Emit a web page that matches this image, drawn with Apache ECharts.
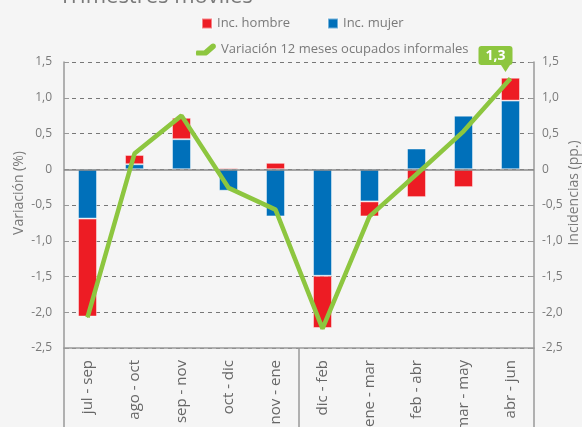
<!DOCTYPE html>
<html>
<head>
<meta charset="utf-8">
<script src="https://cdn.jsdelivr.net/npm/echarts@6/dist/echarts.min.js"></script>
<style>
  html, body { margin: 0; padding: 0; background: #f5f5f5; }
  #main { width: 582px; height: 427px; }
</style>
</head>
<body>
<div id="main"></div>
<script>
// trimestres moviles
var categories = ["jul - sep", "ago - oct", "sep - nov", "oct - dic", "nov - ene",
  "dic - feb", "ene - mar", "feb - abr", "mar - may", "abr - jun"];
var incMujer = [-0.69, 0.07, 0.42, -0.30, -0.66, -1.49, -0.45, 0.29, 0.75, 0.96];
var incHombre = [-1.37, 0.13, 0.30, 0.02, 0.09, -0.73, -0.21, -0.39, -0.25, 0.32];
var variacion = [-2.07, 0.22, 0.75, -0.26, -0.565, -2.23, -0.66, -0.07, 0.53, 1.27];
var yTicks = [-2.5, -2.0, -1.5, -1.0, -0.5, 0, 0.5, 1.0, 1.5];

var grey = "#7a7a7a";
var green = "#8dc63f";
var font = "Open Sans";

function fmt(v) {
  if (v === 0) return "0";
  return v.toFixed(1).replace(".", ",");
}

var lastIdx = variacion.length - 1;
var lineData = variacion.map(function (v, i) {
  if (i !== lastIdx) return v;
  return {
    value: v,
    label: {
      show: true, position: "top", distance: 13, offset: [-15, 0],
      formatter: function (p) { return fmt(Math.round(p.value * 10) / 10); },
      color: "#fff", fontWeight: "bold", fontSize: 14, fontFamily: font,
      backgroundColor: green, borderRadius: 3, padding: [3, 7, 2, 7]
    }
  };
});

function yAxisConf(name, pos) {
  return {
    type: "value", position: pos, min: yTicks[0], max: yTicks[yTicks.length - 1], interval: 0.5,
    name: name, nameLocation: "middle", nameRotate: 90, nameMoveOverlap: false,
    nameGap: pos === "left" ? 38 : 33,
    nameTextStyle: { color: grey, fontSize: 14, fontFamily: font, padding: [0, 0, 0, 24] },
    axisLine: { show: true, lineStyle: { color: "#999", width: 1.5 } },
    axisTick: { show: true, inside: true, length: 5, lineStyle: { color: "#999" } },
    axisLabel: { color: grey, fontSize: 12, fontFamily: font, margin: pos === "left" ? 12 : 8, formatter: fmt },
    splitLine: { show: pos === "left", lineStyle: { color: "#777", type: [4, 4], width: 1 } }
  };
}

var myChart = echarts.init(document.getElementById("main"));
var option = {
  backgroundColor: "#f5f5f5",
  animation: false,
  title: {
    text: "Trimestres móviles", left: 54, top: -19,
    textStyle: { color: grey, fontSize: 22, fontWeight: "normal", fontFamily: font }
  },
  legend: [
    {
      data: ["Inc. hombre", "Inc. mujer"], top: 12, left: 196,
      icon: "rect", itemWidth: 10, itemHeight: 10, itemGap: 37,
      textStyle: { color: grey, fontSize: 13, fontFamily: font }
    },
    {
      data: ["Variación 12 meses ocupados informales"], top: 38, left: 191,
      icon: "path://M1,7 L8,7 L15,1 C16,0 18,0 19,1 C20,2 20,4 19,5 L12,11 C11,12 10,12 9,12 L1,12 C0,12 0,7 1,7 Z",
      itemWidth: 20, itemHeight: 12, itemStyle: { color: green },
      textStyle: { color: grey, fontSize: 13, fontFamily: font }
    }
  ],
  grid: { left: 64, right: 48, top: 62, bottom: 79, outerBoundsMode: "none", containLabel: false },
  xAxis: {
    type: "category", data: categories,
    axisLine: { onZero: false, lineStyle: { color: "#999", width: 1.5 } },
    axisTick: {
      show: true, length: 80, lineStyle: { color: "#999", width: 1.5 },
      interval: function (index) { return index === 0 || index === 5; }
    },
    axisLabel: { interval: 0, rotate: 90, margin: 12, color: "#666", fontSize: 15, fontFamily: font }
  },
  yAxis: [yAxisConf("Variación (%)", "left"), yAxisConf("Incidencias (pp.)", "right")],
  series: [
    {
      name: "Inc. mujer", type: "bar", stack: "inc", data: incMujer, barWidth: 19,
      itemStyle: { color: "#0070ba", borderColor: "rgba(255,255,255,0.45)", borderWidth: 1 },
      markLine: {
        silent: true, symbol: "none", label: { show: false },
        lineStyle: { color: "#888", type: "solid", width: 1.5 },
        data: [{ yAxis: 0 }]
      }
    },
    {
      name: "Inc. hombre", type: "bar", stack: "inc", data: incHombre, barWidth: 19,
      itemStyle: { color: "#ed1c24", borderColor: "rgba(255,255,255,0.45)", borderWidth: 1 }
    },
    {
      name: "Variación 12 meses ocupados informales", type: "line", yAxisIndex: 1,
      data: lineData, showSymbol: true, symbol: "circle", symbolSize: 1, z: 5,
      lineStyle: { color: green, width: 4.5 }, itemStyle: { color: green },
      markPoint: {
        silent: true, symbol: "triangle", symbolSize: [9, 7], symbolRotate: 180,
        symbolOffset: [-5, -10], label: { show: false }, itemStyle: { color: green },
        data: [{ coord: [lastIdx, variacion[lastIdx]] }]
      }
    }
  ]
};
myChart.setOption(option);
</script>
</body>
</html>
